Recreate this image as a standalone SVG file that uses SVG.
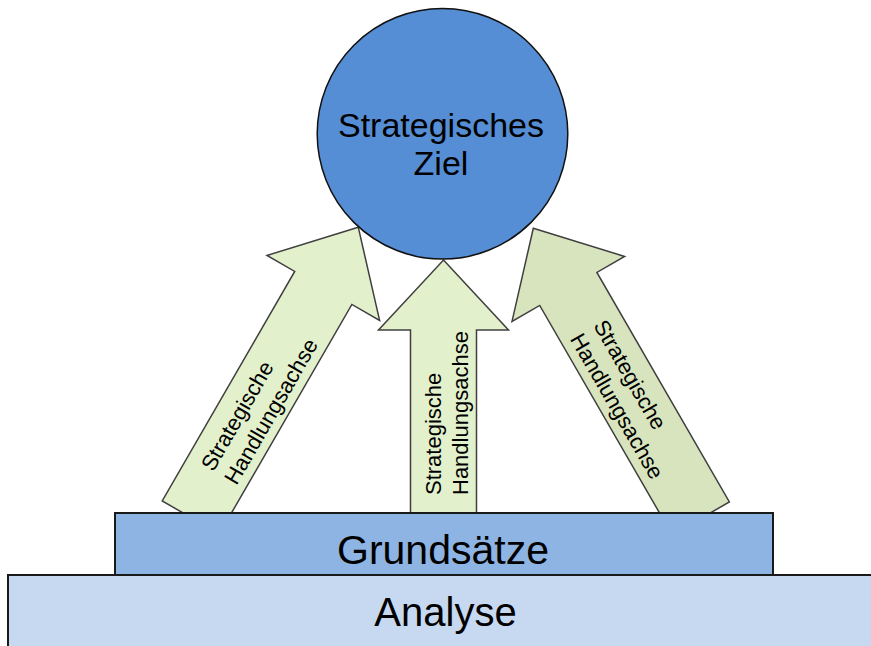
<svg xmlns="http://www.w3.org/2000/svg" width="871" height="646" viewBox="0 0 871 646">
  <defs>
    <style>
      .arrow { stroke: #3f3f3f; stroke-width: 1.5; stroke-linejoin: miter; }
      .lbl { font-family: "Liberation Sans", Arial, sans-serif; font-size: 22px; fill: #000; }
      .big { font-family: "Liberation Sans", Arial, sans-serif; fill: #000; text-anchor: middle; }
      .box { stroke: #1a1a1a; stroke-width: 2; }
    </style>
    <path id="arr-long" d="M0,0 L65,70 L33,70 L33,335 L-33,335 L-33,70 L-65,70 Z"/>
    <path id="arr-short" d="M0,0 L65,70 L33,70 L33,255 L-33,255 L-33,70 L-65,70 Z"/>
  </defs>
  <rect width="871" height="646" fill="#ffffff"/>

  <g id="connectors">
    <g id="arrow-left" transform="translate(358.3,227.3) rotate(30)">
      <use href="#arr-long" class="arrow" fill="#e3f0cc"/>
      <text class="lbl" transform="translate(-3,285) rotate(-90)"><tspan x="0" y="0">Strategische</tspan><tspan x="0" dy="27">Handlungsachse</tspan></text>
    </g>
    <g id="arrow-middle" transform="translate(443.5,260)">
      <use href="#arr-short" class="arrow" fill="#e3f0cc"/>
      <text class="lbl" transform="translate(-3,235) rotate(-90)"><tspan x="0" y="0">Strategische</tspan><tspan x="0" dy="27">Handlungsachse</tspan></text>
    </g>
    <g id="arrow-right" transform="translate(533.3,228.3) rotate(-30)">
      <use href="#arr-long" class="arrow" fill="#d8e4bd"/>
      <text class="lbl" transform="translate(3,114) rotate(90)"><tspan x="0" y="0">Strategische</tspan><tspan x="0" dy="27">Handlungsachse</tspan></text>
    </g>
  </g>

  <g id="ziel">
    <circle cx="442.5" cy="133.8" r="125.3" fill="#558ed5" stroke="#111" stroke-width="1.5"/>
    <text class="big" font-size="34" x="441" y="137">Strategisches</text>
    <text class="big" font-size="34" x="441" y="175">Ziel</text>
  </g>

  <g id="grundsaetze">
    <rect class="box" x="115" y="513" width="658" height="62" fill="#8eb4e3"/>
    <text class="big" font-size="41" x="443" y="564">Grundsätze</text>
  </g>

  <g id="analyse">
    <rect class="box" x="8" y="575" width="880" height="90" fill="#c6d9f1"/>
    <text class="big" font-size="40" x="445.5" y="626">Analyse</text>
  </g>
</svg>
